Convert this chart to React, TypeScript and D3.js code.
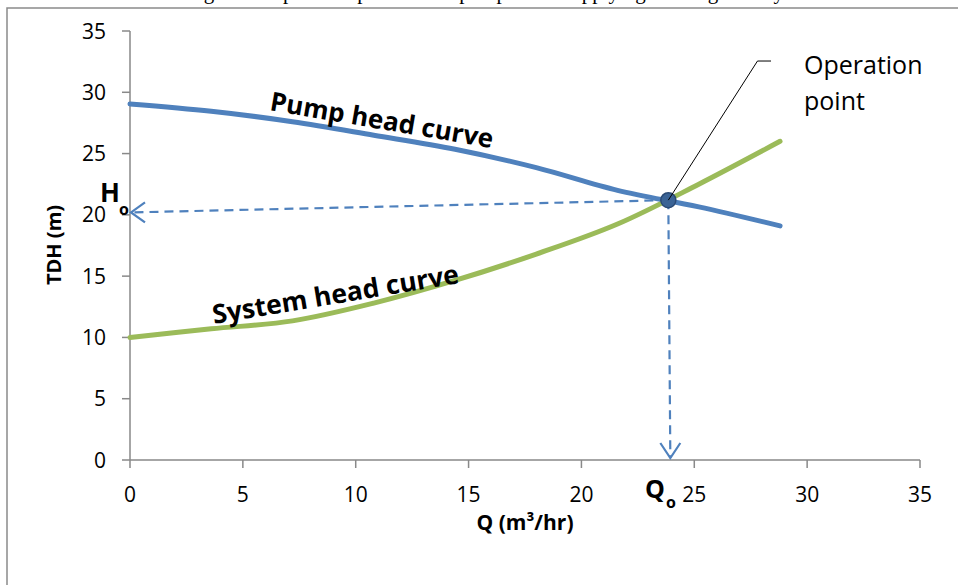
import React from "react";
import * as d3 from "d3";

// ---- data ----
const flowQ = [0, 3.6, 7.2, 10.8, 14.4, 18, 21.6, 25.2, 28.8];
const pumpHead = [29.05, 28.45, 27.6, 26.5, 25.35, 23.85, 22.0, 20.65, 19.1];
const systemHead = [10.0, 10.7, 11.35, 12.8, 14.65, 16.8, 19.25, 22.5, 26.0];
const xTickValues = [0, 5, 10, 15, 20, 25, 30, 35];
const yTickValues = [0, 5, 10, 15, 20, 25, 30, 35];
const operationQ = 23.85;
const operationH = 21.2;
const headMarkValue = 20.2;
const leaderElbow = [27.8, 32.55];
const leaderEnd = [28.4, 32.55];
const captionText = "Figure 3: Operation point of the pump when supplying the irrigation system";

const W = 958;
const H = 585;
const FONT = "'Open Sans', 'Noto Sans', sans-serif";
const BLUE = "#4F81BD";
const GREEN = "#9BBB59";
const AXIS = "#898989";

export default function App() {
  const x = d3.scaleLinear().domain([0, 35]).range([130, 920]);
  const y = d3.scaleLinear().domain([0, 35]).range([460, 31]);

  const line = d3
    .line<[number, number]>()
    .x((d) => x(d[0]))
    .y((d) => y(d[1]))
    .curve(d3.curveCatmullRom.alpha(0.5));

  const pumpPath = line(flowQ.map((q, i) => [q, pumpHead[i]]))!;
  const systemPath = line(flowQ.map((q, i) => [q, systemHead[i]]))!;

  const ox = x(operationQ);
  const oy = y(operationH);
  const hx = x(0);
  const hy = y(headMarkValue);
  const baseY = y(0);

  return (
    <svg
      width={W}
      height={H}
      viewBox={`0 0 ${W} ${H}`}
      style={{ position: "absolute", left: 0, top: 0, background: "#fff" }}
    >
      <rect x={0} y={0} width={W} height={H} fill="#fff" />
      {/* clipped caption above the frame (only descenders visible) */}
      <text
        x={505}
        y={-1}
        textAnchor="middle"
        fontFamily="'Liberation Serif', 'Times New Roman', serif"
        fontSize={21}
        fill="#000"
      >
        {captionText}
      </text>
      {/* outer frame */}
      <path d={`M7,${H} V8 H${W}`} fill="none" stroke="#8a8a8a" strokeWidth={1.5} />

      {/* axes */}
      <line x1={x(0)} x2={x(0)} y1={y(35)} y2={y(0)} stroke={AXIS} strokeWidth={1.5} />
      <line x1={x(0)} x2={x(35)} y1={y(0)} y2={y(0)} stroke={AXIS} strokeWidth={1.5} />
      {yTickValues.map((v) => (
        <g key={"y" + v}>
          <line x1={x(0) - 8} x2={x(0)} y1={y(v)} y2={y(v)} stroke={AXIS} strokeWidth={1.5} />
          <text
            x={106}
            y={y(v) + 7.5}
            textAnchor="end"
            fontFamily={FONT}
            fontSize={21}
            fill="#000"
          >
            {v}
          </text>
        </g>
      ))}
      {xTickValues.map((v) => (
        <g key={"x" + v}>
          <line x1={x(v)} x2={x(v)} y1={y(0)} y2={y(0) + 8} stroke={AXIS} strokeWidth={1.5} />
          <text
            x={x(v)}
            y={502}
            textAnchor="middle"
            fontFamily={FONT}
            fontSize={21}
            fill="#000"
          >
            {v}
          </text>
        </g>
      ))}

      {/* axis titles */}
      <text
        transform={`translate(61,245) rotate(-90)`}
        textAnchor="middle"
        fontFamily={FONT}
        fontWeight="bold"
        fontSize={20}
        fill="#000"
      >
        TDH (m)
      </text>
      <text
        x={525}
        y={530}
        textAnchor="middle"
        fontFamily={FONT}
        fontWeight="bold"
        fontSize={21}
        fill="#000"
      >
        Q (m³/hr)
      </text>

      {/* curves */}
      <path d={pumpPath} fill="none" stroke={BLUE} strokeWidth={5} strokeLinecap="round" />
      <path d={systemPath} fill="none" stroke={GREEN} strokeWidth={5} strokeLinecap="round" />

      {/* dashed guides */}
      <line x1={ox} y1={oy} x2={hx + 2} y2={hy} stroke={BLUE} strokeWidth={2.2} strokeDasharray="9,6" />
      <line x1={ox} y1={oy} x2={ox + 2} y2={baseY - 2} stroke={BLUE} strokeWidth={2.2} strokeDasharray="9,6" />
      <path
        d={`M${hx + 15},${hy - 10} L${hx + 1},${hy} L${hx + 15},${hy + 10}`}
        fill="none"
        stroke={BLUE}
        strokeWidth={2.2}
      />
      <path
        d={`M${ox - 8},${baseY - 17} L${ox + 2},${baseY - 2} L${ox + 12},${baseY - 17}`}
        fill="none"
        stroke={BLUE}
        strokeWidth={2.2}
      />

      {/* operation point */}
      <circle cx={ox} cy={oy} r={7.5} fill="#3A6395" stroke="#2B4A74" strokeWidth={1.5} />
      <polyline
        points={`${ox},${oy} ${x(leaderElbow[0])},${y(leaderElbow[1])} ${x(leaderEnd[0])},${y(leaderEnd[1])}`}
        fill="none"
        stroke="#000"
        strokeWidth={1}
      />
      <text x={804} y={74} fontFamily={FONT} fontSize={25} fill="#000">
        Operation
      </text>
      <text x={804} y={110} fontFamily={FONT} fontSize={25} fill="#000">
        point
      </text>

      {/* curve labels */}
      <text
        transform="translate(269,110) rotate(9.7)"
        fontFamily={FONT}
        fontWeight="bold"
        fontSize={26}
        fill="#000"
      >
        Pump head curve
      </text>
      <text
        transform="translate(214,324) rotate(-9.5)"
        fontFamily={FONT}
        fontWeight="bold"
        fontSize={26.5}
        fill="#000"
      >
        System head curve
      </text>

      {/* H_o and Q_o labels */}
      <text x={100} y={202} fontFamily={FONT} fontWeight="bold" fontSize={26} fill="#000">
        H
      </text>
      <text x={119} y={215} fontFamily={FONT} fontWeight="bold" fontSize={16} fill="#000">
        o
      </text>
      <text x={645} y={498} fontFamily={FONT} fontWeight="bold" fontSize={25} fill="#000">
        Q
      </text>
      <text x={666} y={508} fontFamily={FONT} fontWeight="bold" fontSize={16} fill="#000">
        o
      </text>
    </svg>
  );
}
